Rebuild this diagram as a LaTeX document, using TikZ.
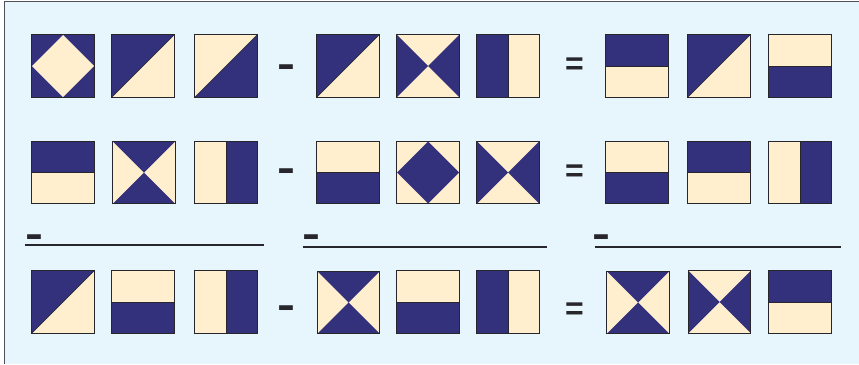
\documentclass[tikz,border=0pt]{standalone}
\usepackage{fontspec}
\setmainfont{Liberation Sans}
\definecolor{navy}{HTML}{33317C}
\definecolor{cream}{HTML}{FFEFCF}
\definecolor{bgblue}{HTML}{E7F5FD}
\definecolor{tileedge}{HTML}{26262C}
\definecolor{framegray}{HTML}{505058}
\newcommand{\ppb}[1]{(path picture bounding box.#1)}
\tikzset{
  tile/.style={minimum width=62pt, minimum height=62pt, inner sep=0pt, fill=cream},
  tileborder/.style={draw=tileedge, line width=1.2pt},
  splitline/.style={draw=tileedge, line width=1pt},
  hT/.style={tile, path picture={\fill[navy] \ppb{north west} rectangle \ppb{east}; \draw[splitline] \ppb{west} -- \ppb{east};}},
  hB/.style={tile, path picture={\fill[navy] \ppb{west} rectangle \ppb{south east}; \draw[splitline] \ppb{west} -- \ppb{east};}},
  vL/.style={tile, path picture={\fill[navy] \ppb{north west} rectangle \ppb{south}; \draw[splitline] \ppb{north} -- \ppb{south};}},
  vR/.style={tile, path picture={\fill[navy] \ppb{north} rectangle \ppb{south east}; \draw[splitline] \ppb{north} -- \ppb{south};}},
  diagTL/.style={tile, path picture={\fill[navy] \ppb{north west} -- \ppb{north east} -- \ppb{south west} -- cycle; \draw[splitline, line width=0.6pt] \ppb{south west} -- \ppb{north east};}},
  diagBR/.style={tile, path picture={\fill[navy] \ppb{north east} -- \ppb{south east} -- \ppb{south west} -- cycle; \draw[splitline, line width=0.6pt] \ppb{south west} -- \ppb{north east};}},
  xLR/.style={tile, path picture={\fill[navy] \ppb{north west} -- \ppb{center} -- \ppb{south west} -- cycle \ppb{north east} -- \ppb{center} -- \ppb{south east} -- cycle;}},
  xTB/.style={tile, path picture={\fill[navy] \ppb{north west} -- \ppb{center} -- \ppb{north east} -- cycle \ppb{south west} -- \ppb{center} -- \ppb{south east} -- cycle;}},
  diamondC/.style={tile, path picture={\fill[navy] \ppb{south west} rectangle \ppb{north east}; \fill[cream] \ppb{north} -- \ppb{east} -- \ppb{south} -- \ppb{west} -- cycle;}},
  diamondN/.style={tile, path picture={\fill[navy] \ppb{north} -- \ppb{east} -- \ppb{south} -- \ppb{west} -- cycle;}},
  opsign/.style={inner sep=0pt, font=\bfseries\fontsize{40}{40}\selectfont, text=tileedge, xscale=1.35, transform shape},
  eqsign/.style={inner sep=0pt, font=\bfseries\fontsize{32}{32}\selectfont, text=tileedge},
  rule/.style={draw=tileedge, line width=2pt},
}
\begin{document}
\begin{tikzpicture}[x=1pt, y=-1pt]
\useasboundingbox (0,0) rectangle (859,364);
% background and frame
\fill[bgblue] (4.5,1.5) rectangle (859,364);
\draw[framegray, line width=1.6pt] (4.5,364) -- (4.5,1.5) -- (859,1.5);
% row 1
\node[diamondC] (r1c1) at (63,66) {};
\node[diagTL]   (r1c2) at (143,66) {};
\node[diagBR]   (r1c3) at (226,66) {};
\node[opsign, anchor=base] (r1m) at (286.5,77) {-};
\node[diagTL]   (r1c4) at (348,66) {};
\node[xLR]      (r1c5) at (428,66) {};
\node[vL]       (r1c6) at (508,66) {};
\node[eqsign, anchor=base] (r1e) at (574.5,74) {=};
\node[hT]       (r1c7) at (637,66) {};
\node[diagTL]   (r1c8) at (719,66) {};
\node[hB]       (r1c9) at (800,66) {};
% row 2
\node[hT]       (r2c1) at (63,172.5) {};
\node[xTB]      (r2c2) at (144,172.5) {};
\node[vR]       (r2c3) at (226,172.5) {};
\node[opsign, anchor=base] (r2m) at (286.5,181) {-};
\node[hB]       (r2c4) at (348,172.5) {};
\node[diamondN] (r2c5) at (428,172.5) {};
\node[xLR]      (r2c6) at (508,172.5) {};
\node[eqsign, anchor=base] (r2e) at (574.5,181.5) {=};
\node[hB]       (r2c7) at (637,172.5) {};
\node[hT]       (r2c8) at (719,172.5) {};
\node[vR]       (r2c9) at (800,172.5) {};
% separators
\node[opsign, anchor=base] (s1m) at (34,247) {-};
\coordinate (s1a) at (25,244.5);
\coordinate (s1b) at (264,244.5);
\draw[rule] (s1a) -- (s1b);
\node[opsign, anchor=base] (s2m) at (311,247) {-};
\coordinate (s2a) at (302.5,246.5);
\coordinate (s2b) at (546.5,246.5);
\draw[rule] (s2a) -- (s2b);
\node[opsign, anchor=base] (s3m) at (601.5,247) {-};
\coordinate (s3a) at (595,246.5);
\coordinate (s3b) at (841,246.5);
\draw[rule] (s3a) -- (s3b);
% row 3
\node[diagTL]   (r3c1) at (63,302) {};
\node[hB]       (r3c2) at (143,302) {};
\node[vR]       (r3c3) at (226,302) {};
\node[opsign, anchor=base] (r3m) at (286.5,318.5) {-};
\node[xTB]      (r3c4) at (348.5,302.5) {};
\node[hB]       (r3c5) at (428,302) {};
\node[vL]       (r3c6) at (508,302) {};
\node[eqsign, anchor=base] (r3e) at (574.5,319) {=};
\node[xTB]      (r3c7) at (638,302.5) {};
\node[xLR]      (r3c8) at (719.5,302) {};
\node[hT]       (r3c9) at (800,302) {};
% tile borders
\foreach \n in {r1c1,r1c2,r1c3,r1c4,r1c5,r1c6,r1c7,r1c8,r1c9,
                r2c1,r2c2,r2c3,r2c4,r2c5,r2c6,r2c7,r2c8,r2c9,
                r3c1,r3c2,r3c3,r3c4,r3c5,r3c6,r3c7,r3c8,r3c9}
  \draw[tileborder] (\n.north west) rectangle (\n.south east);
\end{tikzpicture}
\end{document}
